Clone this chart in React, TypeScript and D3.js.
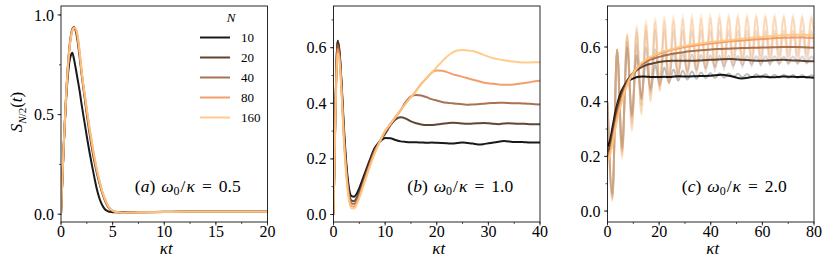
import * as d3 from 'd3';

// copper colormap, one colour per N
const N_LABELS = ['10', '20', '40', '80', '160'];
const COLORS = ['#000000', '#50321f', '#9f643f', '#ef955f', '#ffc77f'];
const RAW_ALPHA = [0.25, 0.2, 0.2, 0.3, 0.3];

// (a) w0/k = 0.5
const T_A = [0, 0.25, 0.5, 0.75, 1.0, 1.1, 1.25, 1.4, 1.6, 1.8, 2.0, 2.25, 2.5, 2.75, 3.0, 3.25, 3.5, 3.75, 4.0, 4.25, 4.5, 4.75, 5.0, 5.5, 6, 7, 8, 10, 12, 15, 20];
const A_10 = [0, 0.32, 0.58, 0.74, 0.803, 0.81, 0.78, 0.74, 0.68, 0.62, 0.55, 0.47, 0.39, 0.315, 0.245, 0.18, 0.12, 0.075, 0.045, 0.025, 0.016, 0.012, 0.01, 0.01, 0.01, 0.011, 0.011, 0.012, 0.012, 0.012, 0.012];
const A_20 = [0, 0.33, 0.6, 0.8, 0.91, 0.93, 0.94, 0.925, 0.87, 0.79, 0.70, 0.6, 0.5, 0.41, 0.33, 0.26, 0.2, 0.15, 0.105, 0.07, 0.043, 0.025, 0.016, 0.01, 0.008, 0.009, 0.01, 0.011, 0.012, 0.012, 0.012];
const A_40 = [0, 0.33, 0.6, 0.795, 0.905, 0.925, 0.938, 0.93, 0.885, 0.805, 0.71, 0.61, 0.515, 0.425, 0.345, 0.272, 0.21, 0.157, 0.11, 0.074, 0.045, 0.026, 0.017, 0.01, 0.008, 0.009, 0.01, 0.011, 0.012, 0.012, 0.012];
const A_80 = [0, 0.33, 0.6, 0.79, 0.9, 0.922, 0.935, 0.932, 0.895, 0.815, 0.715, 0.615, 0.525, 0.435, 0.355, 0.28, 0.215, 0.16, 0.113, 0.076, 0.047, 0.027, 0.018, 0.01, 0.008, 0.009, 0.01, 0.011, 0.012, 0.012, 0.012];
const A_160 = [0, 0.33, 0.6, 0.79, 0.9, 0.92, 0.935, 0.935, 0.9, 0.82, 0.72, 0.62, 0.53, 0.44, 0.36, 0.285, 0.22, 0.165, 0.115, 0.078, 0.048, 0.028, 0.018, 0.01, 0.008, 0.009, 0.01, 0.011, 0.012, 0.012, 0.012];

// (b) w0/k = 1.0
const T_B = [0, 0.4, 0.8, 1.2, 1.6, 2.0, 2.5, 3.0, 3.5, 4.0, 4.5, 5, 6, 7, 8, 9, 10, 11, 12, 13, 14, 15, 16, 17, 18, 19, 20, 21, 22, 23, 24, 25, 26, 27, 28, 29, 30, 31, 32, 33, 34, 35, 36, 37, 38, 39, 40];
const B_10 = [0, 0.4, 0.625, 0.58, 0.46, 0.32, 0.18, 0.095, 0.066, 0.064, 0.075, 0.095, 0.145, 0.195, 0.24,
  0.262, 0.275, 0.274, 0.268, 0.263, 0.261, 0.26, 0.26, 0.259, 0.258, 0.259, 0.258, 0.257, 0.256, 0.255, 0.257, 0.259, 0.257, 0.255, 0.252, 0.253, 0.256, 0.259, 0.262, 0.264, 0.263, 0.261, 0.261, 0.26, 0.259, 0.259, 0.259];
const B_20 = [0, 0.4, 0.625, 0.575, 0.45, 0.3, 0.165, 0.08, 0.05, 0.048, 0.06, 0.08, 0.135, 0.19, 0.235,
  0.265, 0.29, 0.32, 0.342, 0.35, 0.345, 0.335, 0.328, 0.324, 0.322, 0.322, 0.324, 0.326, 0.328, 0.33, 0.329, 0.327, 0.326, 0.327, 0.328, 0.329, 0.328, 0.326, 0.325, 0.327, 0.328, 0.327, 0.326, 0.326, 0.325, 0.325, 0.325];
const B_40 = [0, 0.39, 0.61, 0.565, 0.44, 0.29, 0.155, 0.07, 0.04, 0.038, 0.05, 0.072, 0.127, 0.18, 0.23,
  0.263, 0.298, 0.325, 0.35, 0.375, 0.405, 0.425, 0.43, 0.428, 0.422, 0.415, 0.41, 0.405, 0.402, 0.4, 0.398, 0.397, 0.395, 0.396, 0.397, 0.398, 0.4, 0.401, 0.402, 0.402, 0.401, 0.4, 0.4, 0.399, 0.398, 0.397, 0.396];
const B_80 = [0, 0.38, 0.595, 0.555, 0.43, 0.28, 0.145, 0.06, 0.03, 0.028, 0.042, 0.065, 0.12, 0.175, 0.225,
  0.263, 0.3, 0.325, 0.35, 0.375, 0.4, 0.422, 0.445, 0.47, 0.49, 0.51, 0.518, 0.517, 0.512, 0.505, 0.5, 0.495, 0.49, 0.485, 0.48, 0.475, 0.472, 0.47, 0.468, 0.467, 0.467, 0.468, 0.47, 0.473, 0.476, 0.479, 0.481];
const B_160 = [0, 0.37, 0.58, 0.545, 0.42, 0.27, 0.135, 0.052, 0.022, 0.022, 0.036, 0.06, 0.115, 0.17, 0.22,
  0.263, 0.3, 0.325, 0.35, 0.375, 0.4, 0.422, 0.445, 0.47, 0.49, 0.51, 0.53, 0.55, 0.568, 0.582, 0.59, 0.592, 0.59, 0.588, 0.582, 0.575, 0.568, 0.562, 0.558, 0.555, 0.552, 0.55, 0.548, 0.547, 0.547, 0.548, 0.548];

// (c) w0/k = 2.0, smoothed curves
const T_C = [0, 1, 2, 3, 4, 5, 6, 7, 8, 10, 12, 14, 16, 18, 20, 22, 24, 26, 28, 30, 33, 36, 40, 44, 48, 52, 56, 60, 64, 68, 72, 76, 80];
const C_10 = [0.235, 0.26, 0.31, 0.36, 0.4, 0.43, 0.45, 0.465, 0.475, 0.485, 0.491, 0.492, 0.491, 0.49, 0.49, 0.491, 0.49, 0.492, 0.493, 0.492, 0.493, 0.494, 0.495, 0.499, 0.493, 0.485, 0.49, 0.492, 0.489, 0.492, 0.491, 0.49, 0.488];
const C_20 = [0.215, 0.24, 0.29, 0.345, 0.39, 0.42, 0.447, 0.467, 0.483, 0.505, 0.52, 0.53, 0.537, 0.541, 0.545, 0.548, 0.549, 0.55, 0.55, 0.55, 0.55, 0.551, 0.553, 0.555, 0.556, 0.553, 0.551, 0.55, 0.552, 0.553, 0.551, 0.549, 0.548];
const C_40 = [0.2, 0.225, 0.27, 0.32, 0.365, 0.4, 0.43, 0.455, 0.476, 0.506, 0.527, 0.541, 0.551, 0.558, 0.564, 0.569, 0.573, 0.576, 0.579, 0.582, 0.585, 0.588, 0.591, 0.593, 0.595, 0.596, 0.597, 0.598, 0.599, 0.6, 0.6, 0.599, 0.597];
const C_80 = [0.19, 0.215, 0.26, 0.31, 0.355, 0.39, 0.423, 0.45, 0.473, 0.505, 0.528, 0.545, 0.557, 0.567, 0.575, 0.582, 0.587, 0.592, 0.596, 0.6, 0.604, 0.608, 0.613, 0.617, 0.621, 0.624, 0.627, 0.629, 0.632, 0.634, 0.635, 0.635, 0.633];
const C_160 = [0.18, 0.205, 0.25, 0.3, 0.345, 0.38, 0.415, 0.445, 0.47, 0.505, 0.53, 0.548, 0.56, 0.57, 0.578, 0.585, 0.59, 0.595, 0.6, 0.604, 0.609, 0.613, 0.618, 0.622, 0.626, 0.63, 0.634, 0.637, 0.64, 0.643, 0.645, 0.645, 0.642];

// (c) raw oscillating curves, read at their peaks and troughs
const T_RAW = [0, 1.9, 3.7, 5.65, 7.6, 9.45, 11.3, 13.1, 14.9, 16.68, 18.46, 20.24, 22.02, 23.8, 25.58, 27.36, 29.14, 30.92, 32.7, 34.48, 36.26, 38.04, 39.82, 41.6, 43.38, 45.16, 46.94, 48.72, 50.5, 52.28, 54.06, 55.84, 57.62, 59.4, 61.18, 62.96, 64.74, 66.52, 68.3, 70.08, 71.86, 73.64, 75.42, 77.2, 78.98, 80];
const RAW_10 = [0.4, 0.06, 0.59, 0.23, 0.6, 0.35, 0.57, 0.41, 0.55, 0.44, 0.535, 0.46, 0.525, 0.47, 0.518, 0.477, 0.513, 0.481, 0.51, 0.484, 0.507, 0.486, 0.505, 0.487, 0.504, 0.488, 0.503, 0.489, 0.502, 0.489, 0.501, 0.489, 0.5, 0.488, 0.5, 0.488, 0.499, 0.488, 0.499, 0.487, 0.498, 0.487, 0.498, 0.487, 0.497, 0.492];
const RAW_20 = [0.4, 0.05, 0.59, 0.22, 0.62, 0.34, 0.61, 0.41, 0.6, 0.45, 0.592, 0.475, 0.585, 0.49, 0.58, 0.5, 0.576, 0.51, 0.573, 0.517, 0.571, 0.522, 0.57, 0.526, 0.569, 0.529, 0.568, 0.532, 0.567, 0.534, 0.567, 0.536, 0.566, 0.537, 0.566, 0.538, 0.566, 0.539, 0.565, 0.54, 0.565, 0.54, 0.565, 0.541, 0.565, 0.553];
const RAW_40 = [0.39, 0.045, 0.59, 0.21, 0.64, 0.32, 0.655, 0.385, 0.66, 0.425, 0.662, 0.45, 0.662, 0.468, 0.662, 0.48, 0.662, 0.49, 0.662, 0.498, 0.662, 0.505, 0.662, 0.51, 0.662, 0.515, 0.661, 0.52, 0.66, 0.524, 0.66, 0.527, 0.66, 0.53, 0.66, 0.532, 0.66, 0.534, 0.66, 0.536, 0.66, 0.538, 0.66, 0.539, 0.66, 0.6];
const RAW_80 = [0.39, 0.04, 0.59, 0.2, 0.645, 0.3, 0.668, 0.36, 0.683, 0.405, 0.692, 0.44, 0.697, 0.465, 0.7, 0.485, 0.703, 0.5, 0.705, 0.512, 0.706, 0.522, 0.707, 0.53, 0.708, 0.537, 0.709, 0.543, 0.709, 0.548, 0.71, 0.552, 0.71, 0.556, 0.71, 0.559, 0.71, 0.562, 0.71, 0.564, 0.709, 0.565, 0.708, 0.566, 0.707, 0.64];
const RAW_160 = [0.39, 0.035, 0.595, 0.19, 0.65, 0.29, 0.68, 0.35, 0.7, 0.4, 0.708, 0.44, 0.713, 0.47, 0.716, 0.49, 0.718, 0.505, 0.72, 0.52, 0.721, 0.53, 0.722, 0.54, 0.722, 0.548, 0.722, 0.555, 0.722, 0.56, 0.722, 0.565, 0.722, 0.57, 0.722, 0.573, 0.721, 0.576, 0.72, 0.578, 0.72, 0.58, 0.718, 0.58, 0.716, 0.66];

// font has to be set on each text, quoted
const TXT = { fontFamily: "'Liberation Serif'" };
const TOP = 6;
const BOTTOM = 222;
const PW = 206.5;

const panels = [
  {
    left: 61, xMax: 20, xMajor: [0, 5, 10, 15, 20], xMinor: d3.range(0, 20.01, 2.5),
    yDom: [-0.039, 1.045], yMajor: [0, 0.5, 1.0], yMinor: [0, 0.25, 0.5, 0.75, 1.0],
    t: T_A, series: [A_10, A_20, A_40, A_80, A_160], raw: null, tag: 'a', w: '0.5',
  },
  {
    left: 333.5, xMax: 40, xMajor: [0, 10, 20, 30, 40], xMinor: d3.range(0, 40.01, 5),
    yDom: [-0.027, 0.75], yMajor: [0, 0.2, 0.4, 0.6], yMinor: d3.range(0, 0.75, 0.1),
    t: T_B, series: [B_10, B_20, B_40, B_80, B_160], raw: null, tag: 'b', w: '1.0',
  },
  {
    left: 607.5, xMax: 80, xMajor: [0, 20, 40, 60, 80], xMinor: d3.range(0, 80.01, 10),
    yDom: [-0.04, 0.75], yMajor: [0, 0.2, 0.4, 0.6], yMinor: d3.range(0, 0.75, 0.1),
    t: T_C, series: [C_10, C_20, C_40, C_80, C_160], raw: [RAW_10, RAW_20, RAW_40, RAW_80, RAW_160], tag: 'c', w: '2.0',
  },
];

const fmt = d3.format('.1f');

function Panel({ p }: { p: any }) {
  const x = d3.scaleLinear().domain([0, p.xMax]).range([p.left, p.left + PW]);
  const y = d3.scaleLinear().domain(p.yDom).range([BOTTOM, TOP]);
  const mk = (ts: number[]) =>
    d3.line<number>().x((_, i) => x(ts[i])).y((d) => y(d)).curve(d3.curveMonotoneX);
  const line = mk(p.t);
  const rawLine = mk(T_RAW);
  const cx = p.left + PW / 2;
  return (
    <g>
      <defs>
        <clipPath id={'clip-' + p.tag}>
          <rect x={p.left} y={TOP} width={PW} height={BOTTOM - TOP} />
        </clipPath>
      </defs>
      <g clipPath={`url(#clip-${p.tag})`} fill="none" strokeLinejoin="round">
        {p.raw && p.raw.map((r: number[], i: number) => (
          <path key={'r' + i} d={rawLine(r) || ''} stroke={COLORS[i]} strokeOpacity={RAW_ALPHA[i]} strokeWidth={2} />
        ))}
        {p.series.map((s: number[], i: number) => (
          <path key={i} d={line(s) || ''} stroke={COLORS[i]} strokeOpacity={0.9} strokeWidth={2} />
        ))}
      </g>
      <rect x={p.left} y={TOP} width={PW} height={BOTTOM - TOP} fill="none" stroke="#111" strokeWidth={0.9} />
      {p.xMinor.map((v: number) => (
        <line key={'xm' + v} x1={x(v)} x2={x(v)} y1={BOTTOM} y2={BOTTOM + 2} stroke="#111" strokeWidth={0.7} />
      ))}
      {p.xMajor.map((v: number) => (
        <g key={'xM' + v}>
          <line x1={x(v)} x2={x(v)} y1={BOTTOM} y2={BOTTOM + 3.5} stroke="#111" strokeWidth={0.8} />
          <text x={x(v)} y={237} textAnchor="middle" fontSize={16} style={TXT}>{v}</text>
        </g>
      ))}
      {p.yMinor.map((v: number) => (
        <line key={'ym' + v} x1={p.left - 2} x2={p.left} y1={y(v)} y2={y(v)} stroke="#111" strokeWidth={0.7} />
      ))}
      {p.yMajor.map((v: number) => (
        <g key={'yM' + v}>
          <line x1={p.left - 3.5} x2={p.left} y1={y(v)} y2={y(v)} stroke="#111" strokeWidth={0.8} />
          <text x={p.left - 7} y={y(v)} dy="0.35em" textAnchor="end" fontSize={16} style={TXT}>{fmt(v)}</text>
        </g>
      ))}
      <text x={cx + 2} y={254} textAnchor="middle" fontSize={17} fontStyle="italic" style={TXT}>κt</text>
      <text x={cx + 23.5} y={191.5} textAnchor="middle" fontSize={17.5} style={TXT}>
        (<tspan fontStyle="italic">{p.tag}</tspan>)
        <tspan dx={6} fontStyle="italic">ω</tspan>
        <tspan fontSize={12} dy={3.5}>0</tspan>
        <tspan dx={1} dy={-3.5}>/</tspan>
        <tspan dx={1} fontStyle="italic">κ</tspan>
        <tspan dx={7}>=</tspan>
        <tspan dx={7}>{p.w}</tspan>
      </text>
    </g>
  );
}

function Legend() {
  const ys = [37.5, 57.5, 77.5, 97.5, 117.5];
  return (
    <g>
      <text x={231} y={21.5} textAnchor="middle" fontSize={13} fontStyle="italic" style={TXT}>N</text>
      {N_LABELS.map((n, i) => (
        <g key={n}>
          <line x1={200} x2={230} y1={ys[i]} y2={ys[i]} stroke={COLORS[i]} strokeOpacity={0.9} strokeWidth={2} />
          <text x={241} y={ys[i] + 4.5} fontSize={13} style={TXT}>{n}</text>
        </g>
      ))}
    </g>
  );
}

export default function App() {
  return (
    <svg width={830} height={275} style={{ position: 'absolute', left: 0, top: 0, background: '#fff' }}>
      {panels.map((p) => <Panel key={p.tag} p={p} />)}
      <Legend />
      <text transform="translate(22,112) rotate(-90)" textAnchor="middle" fontSize={17} style={TXT}>
        <tspan fontStyle="italic">S</tspan>
        <tspan fontSize={11} dy={4}><tspan fontStyle="italic">N</tspan>/2</tspan>
        <tspan dy={-4}>(</tspan>
        <tspan fontStyle="italic">t</tspan>)
      </text>
    </svg>
  );
}
